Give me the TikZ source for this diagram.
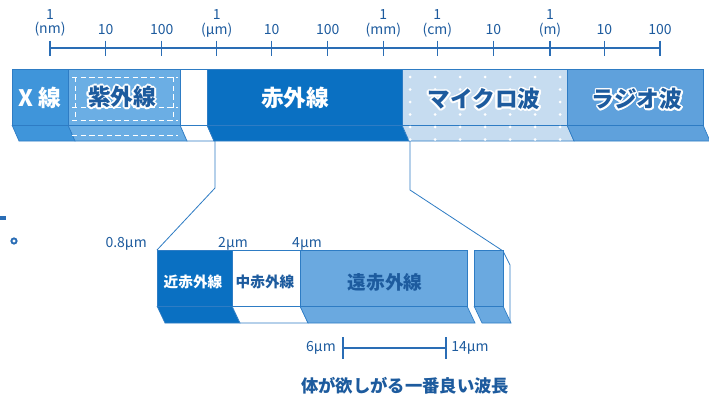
\documentclass[tikz,border=0pt]{standalone}
\usepackage{fontspec}
\setmainfont{Noto Sans CJK JP}
\usepackage{contour}
\contourlength{1.3pt}
\contournumber{16}
\definecolor{axisblue}{HTML}{2A6DB5}
\definecolor{txtblue}{HTML}{1D5B9E}
\definecolor{edge}{HTML}{2E7CC4}
\definecolor{xray}{HTML}{3F95DA}
\definecolor{uv}{HTML}{6BAEE4}
\definecolor{ir}{HTML}{0A70C2}
\definecolor{mw}{HTML}{C6DCF0}
\definecolor{radio}{HTML}{5FA1DC}
\definecolor{far}{HTML}{6AA9E0}
\tikzset{
  axisline/.style={draw=axisblue, line width=1.1pt},
  ticklbl/.style={text=txtblue, font=\fontsize{10.5}{12}\selectfont, inner sep=0pt},
  bandedge/.style={draw=edge, line width=0.5pt},
  zoomline/.style={draw=edge, line width=0.6pt},
  bigtxt/.style={font=\fontsize{17}{19}\selectfont\bfseries, inner sep=0pt},
  midtxt/.style={font=\fontsize{11}{13}\selectfont\bfseries, inner sep=0pt},
  umlbl/.style={text=txtblue, font=\fontsize{10.5}{12}\selectfont, inner sep=0pt},
}
\begin{document}
\begin{tikzpicture}[x=0.75pt,y=-0.75pt]
\useasboundingbox (0,0) rectangle (709,393);
\fill[white] (0,0) rectangle (709,393);

% axis
\draw[axisline] (50,48) -- (660,48);
\foreach \x in {50,105.7,161.7,216.7,271.7,327.7,383.3,437.3,493.3,550,604.3,660}
  \draw[axisline] (\x,40.5) -- (\x,56);
\node[ticklbl] (a1a) at (50,15) {1};
\node[ticklbl] (a1b) at (50,29) {(nm)};
\node[ticklbl] (a2) at (105.7,30) {10};
\node[ticklbl] (a3) at (161.7,30) {100};
\node[ticklbl] (a4a) at (216.7,15) {1};
\node[ticklbl] (a4b) at (216.7,30) {(μm)};
\node[ticklbl] (a5) at (271.7,30) {10};
\node[ticklbl] (a6) at (327.7,30) {100};
\node[ticklbl] (a7a) at (383.3,15) {1};
\node[ticklbl] (a7b) at (383.3,30) {(mm)};
\node[ticklbl] (a8a) at (437.3,15) {1};
\node[ticklbl] (a8b) at (437.3,30) {(cm)};
\node[ticklbl] (a9) at (493.3,30) {10};
\node[ticklbl] (a10a) at (550,15) {1};
\node[ticklbl] (a10b) at (550,30) {(m)};
\node[ticklbl] (a11) at (604.3,30) {10};
\node[ticklbl] (a12) at (660,30) {100};

% top bands
\foreach \xa/\xb/\col in {12/68/xray, 68/180/uv, 180/207/white, 207/402/ir, 402/567/mw, 567/703/radio}{
  \fill[\col] (\xa,69) rectangle (\xb,125);
  \fill[\col] (\xa,125) -- (\xb,125) -- (\xb+7,141) -- (\xa+7,141) -- cycle;
  \draw[bandedge] (\xa,69) rectangle (\xb,125);
  \draw[bandedge] (\xa,125) -- (\xa+7,141) -- (\xb+7,141) -- (\xb,125);
}
% UV dashes
\foreach \yy in {77,107,120,135}
  \draw[white, line width=0.7pt, dash pattern=on 4pt off 2.5pt] (72,\yy) -- (178,\yy);
\foreach \xx in {75,173}
  \draw[white, line width=0.7pt, dash pattern=on 4pt off 2.5pt] (\xx,77) -- (\xx,120);
% microwave dots
\foreach \i in {0,...,6}
  \foreach \j in {0,...,5}
    \fill[white] (410+\i*25,77+\j*12.5) circle (1.5);

\node[bigtxt, text=white] (xr) at (40,98) {X 線};
\node[bigtxt, text=txtblue] (uvt) at (122,98) {\contour{white}{紫外線}};
\node[bigtxt, text=white] (irt) at (295,98) {赤外線};
\node[bigtxt, text=txtblue] (mwt) at (484,100) {\contour{white}{マイクロ波}};
\node[bigtxt, text=txtblue] (rdt) at (637,100) {\contour{white}{ラジオ波}};

% zoom lines
\coordinate (zl0) at (215,141);
\coordinate (zl1) at (215,188);
\coordinate (zl2) at (157,250);
\coordinate (zr0) at (410,141);
\coordinate (zr1) at (410,190);
\coordinate (zr2) at (503,251);
\coordinate (zr3) at (510,265);
\coordinate (zr4) at (510,323);
\draw[zoomline] (zl0) -- (zl1) -- (zl2);
\draw[zoomline] (zr0) -- (zr1) -- (zr2) -- (zr3) -- (zr4);

% lower bands
\foreach \xa/\xb/\col in {157/232/ir, 232/300/white, 300/467/far, 474/503/far}{
  \fill[\col] (\xa,250) rectangle (\xb,306);
  \fill[\col] (\xa,306) -- (\xb,306) -- (\xb+8,323) -- (\xa+8,323) -- cycle;
  \draw[bandedge] (\xa,250) rectangle (\xb,306);
  \draw[bandedge] (\xa,306) -- (\xa+8,323) -- (\xb+8,323) -- (\xb,306);
}
\node[midtxt, text=white] (nir) at (193,282) {近赤外線};
\node[midtxt, text=txtblue] (mir) at (265,282) {中赤外線};
\node[font=\fontsize{14}{16}\selectfont\bfseries, inner sep=0pt, text=txtblue] (fir) at (385,282) {遠赤外線};

\node[umlbl, anchor=east] (l08) at (147,244) {0.8μm};
\node[umlbl] (l2) at (233,244) {2μm};
\node[umlbl] (l4) at (307,244) {4μm};

% best range
\coordinate (s1) at (343,348);
\coordinate (s2) at (446,348);
\draw[axisline, line width=0.9pt] (s1) -- (s2);
\draw[axisline, line width=0.9pt] ([yshift=-8pt]s1) -- ([yshift=8pt]s1);
\draw[axisline, line width=0.9pt] ([yshift=-8pt]s2) -- ([yshift=8pt]s2);
\node[umlbl, anchor=east] (l6) at (336,348) {6μm};
\node[umlbl, anchor=west] (l14) at (451,348) {14μm};
\node[font=\fontsize{13}{15}\selectfont\bfseries, inner sep=0pt, text=txtblue] (cap) at (405,386) {体が欲しがる一番良い波長};

% stray marks at left edge
\draw[axisblue, line width=2.5pt] (0,218) -- (6,218);
\draw[axisblue, line width=1.4pt] (14,241) circle (2.6);
\end{tikzpicture}
\end{document}
